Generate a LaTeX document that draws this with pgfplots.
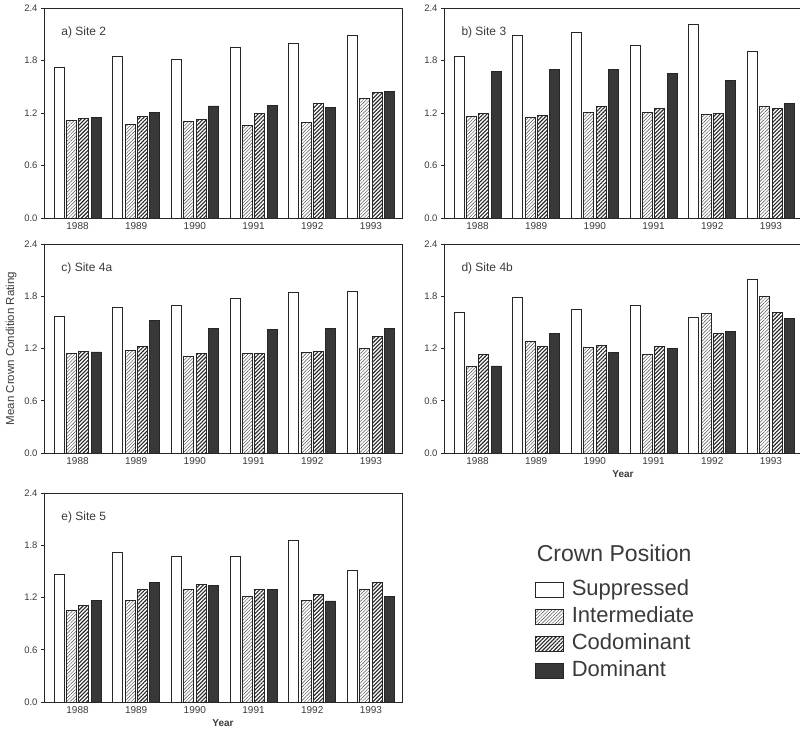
\documentclass[border=0pt]{standalone}
\usepackage{fontspec}
\setmainfont{Liberation Sans}
\usepackage{pgfplots}
\pgfplotsset{compat=1.18}
\usetikzlibrary{patterns.meta}
\definecolor{lc}{HTML}{262626}
\definecolor{tc}{HTML}{3A3A3A}
\definecolor{dk}{HTML}{383838}
\definecolor{hl}{HTML}{4A4A4A}

\pgfplotsset{
  panel/.style={
    scale only axis, width=358pt, height=209pt, anchor=south west,
    xmin=-0.571, xmax=5.53, ymin=0, ymax=2.4,
    ybar, bar width=0.17,
    xtick={0,1,2,3,4,5}, xticklabels={1988,1989,1990,1991,1992,1993},
    ytick={0,0.6,1.2,1.8,2.4},
    yticklabel style={/pgf/number format/fixed,/pgf/number format/fixed zerofill,/pgf/number format/precision=1},
    /pgf/number format/assume math mode=true,
    tick align=outside, ytick pos=left, xtick pos=bottom,
    major tick length=3pt,
    xtick style={draw=none},
    ytick style={lc, line width=0.8pt},
    axis line style={lc, line width=0.9pt},
    tick label style={text=tc},
    xticklabel style={font=\fontsize{10}{12}\selectfont, yshift=2pt},
    yticklabel style={font=\fontsize{9.5}{11}\selectfont},
    xlabel style={font=\bfseries\fontsize{10}{12}\selectfont, text=tc, at={(axis description cs:0.5,-0.10)}, anchor=center},
    ylabel style={font=\fontsize{11.5}{13}\selectfont, text=tc, at={(axis description cs:-0.092,0.5)}, anchor=center},
  },
  sup/.style={draw=lc, fill=white, line width=0.8pt, bar shift=-0.315},
  inter/.style={draw=lc, line width=0.8pt, pattern={Lines[angle=45,distance=2.4pt,line width=0.45pt]}, pattern color=hl, bar shift=-0.105},
  codom/.style={draw=lc, line width=0.8pt, pattern={Lines[angle=45,distance=2.7pt,line width=1.1pt]}, pattern color=lc, bar shift=0.105},
  dom/.style={draw=lc, fill=dk, line width=0.8pt, bar shift=0.315},
}
\newcommand{\ptitle}[1]{\node[anchor=base west, font=\fontsize{12}{14}\selectfont, text=tc] at (rel axis cs:0.039,0.868) {#1};}

\begin{document}
\begin{tikzpicture}
\useasboundingbox (0,0) rectangle (800pt,731pt);

% a) Site 2
\begin{axis}[panel, at={(44pt,513pt)}, height=210pt]
\addplot[sup] coordinates {(0,1.72) (1,1.85) (2,1.81) (3,1.95) (4,2.00) (5,2.09)};
\addplot[inter] coordinates {(0,1.11) (1,1.07) (2,1.10) (3,1.06) (4,1.09) (5,1.37)};
\addplot[codom] coordinates {(0,1.14) (1,1.16) (2,1.13) (3,1.19) (4,1.31) (5,1.43)};
\addplot[dom] coordinates {(0,1.15) (1,1.21) (2,1.28) (3,1.29) (4,1.26) (5,1.45)};
\ptitle{a) Site 2}
\end{axis}

% b) Site 3
\begin{axis}[panel, at={(444pt,513pt)}, height=210pt]
\addplot[sup] coordinates {(0,1.85) (1,2.09) (2,2.12) (3,1.97) (4,2.21) (5,1.90)};
\addplot[inter] coordinates {(0,1.16) (1,1.15) (2,1.21) (3,1.21) (4,1.18) (5,1.27)};
\addplot[codom] coordinates {(0,1.19) (1,1.17) (2,1.27) (3,1.25) (4,1.19) (5,1.25)};
\addplot[dom] coordinates {(0,1.67) (1,1.70) (2,1.70) (3,1.65) (4,1.57) (5,1.31)};
\ptitle{b) Site 3}
\end{axis}

% c) Site 4a
\begin{axis}[panel, at={(44pt,278pt)}, ylabel={Mean Crown Condition Rating}]
\addplot[sup] coordinates {(0,1.57) (1,1.67) (2,1.70) (3,1.78) (4,1.84) (5,1.85)};
\addplot[inter] coordinates {(0,1.14) (1,1.18) (2,1.11) (3,1.14) (4,1.15) (5,1.20)};
\addplot[codom] coordinates {(0,1.17) (1,1.22) (2,1.14) (3,1.14) (4,1.17) (5,1.34)};
\addplot[dom] coordinates {(0,1.16) (1,1.52) (2,1.43) (3,1.42) (4,1.43) (5,1.43)};
\ptitle{c) Site 4a}
\end{axis}

% d) Site 4b
\begin{axis}[panel, at={(444pt,278pt)}, xlabel={Year}]
\addplot[sup] coordinates {(0,1.61) (1,1.79) (2,1.65) (3,1.69) (4,1.56) (5,1.99)};
\addplot[inter] coordinates {(0,0.99) (1,1.28) (2,1.21) (3,1.13) (4,1.60) (5,1.80)};
\addplot[codom] coordinates {(0,1.13) (1,1.22) (2,1.24) (3,1.22) (4,1.37) (5,1.61)};
\addplot[dom] coordinates {(0,1.00) (1,1.37) (2,1.15) (3,1.20) (4,1.40) (5,1.54)};
\ptitle{d) Site 4b}
\end{axis}

% e) Site 5
\begin{axis}[panel, at={(44pt,29pt)}, xlabel={Year},
  legend style={at={(axis description cs:1.3715,0.714)}, anchor=north west,
    draw=none, fill=none, inner sep=0pt, outer sep=0pt,
    font=\fontsize{22}{26}\selectfont, text=tc, column sep=8pt, row sep=6pt,
    nodes={inner sep=0pt, text height=16pt, text depth=5pt}},
  legend cell align=left,
  legend image code/.code={\draw[#1] (0pt,-7.5pt) rectangle (28pt,7.5pt);}]
\addlegendimage{empty legend}
\addlegendentry{\hspace*{-35pt}\raisebox{7pt}{\fontsize{23}{26}\selectfont Crown Position}}
\addplot[sup] coordinates {(0,1.47) (1,1.72) (2,1.67) (3,1.67) (4,1.86) (5,1.51)};
\addlegendentry{Suppressed}
\addplot[inter] coordinates {(0,1.05) (1,1.17) (2,1.29) (3,1.21) (4,1.17) (5,1.29)};
\addlegendentry{Intermediate}
\addplot[codom] coordinates {(0,1.11) (1,1.29) (2,1.35) (3,1.29) (4,1.23) (5,1.37)};
\addlegendentry{Codominant}
\addplot[dom] coordinates {(0,1.17) (1,1.37) (2,1.34) (3,1.29) (4,1.16) (5,1.21)};
\addlegendentry{Dominant}
\ptitle{e) Site 5}
\end{axis}
\end{tikzpicture}
\end{document}
